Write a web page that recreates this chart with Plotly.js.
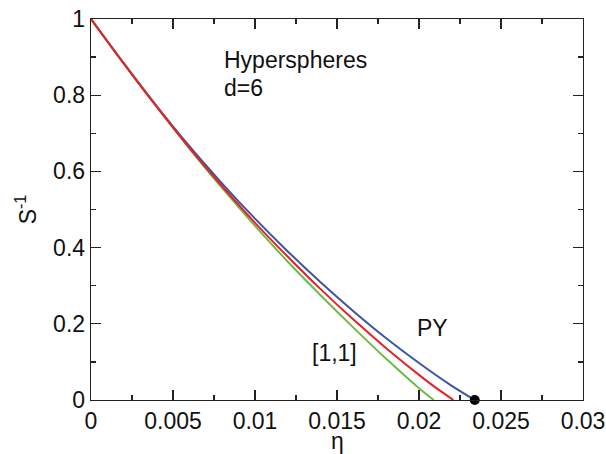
<!DOCTYPE html>
<html>
<head>
<meta charset="utf-8">
<script src="https://cdn.plot.ly/plotly-3.0.1.min.js"></script>
<style>html,body{margin:0;padding:0;background:#fff;}#chart{width:606px;height:454px;}</style>
</head>
<body>
<div id="chart"></div>
<script>
// PY (blue)
const etaPY = [0, 0.002, 0.004, 0.006, 0.008, 0.010, 0.012, 0.014, 0.016, 0.018, 0.020, 0.022, 0.0234];
const sPY   = [1, 0.884, 0.772, 0.666, 0.568, 0.476, 0.390, 0.309, 0.233, 0.162, 0.097, 0.037, 0];
// red curve
const etaRed = [0, 0.002, 0.004, 0.006, 0.008, 0.010, 0.012, 0.014, 0.016, 0.018, 0.020, 0.021, 0.0221];
const sRed   = [1, 0.883, 0.770, 0.662, 0.561, 0.465, 0.376, 0.291, 0.211, 0.136, 0.066, 0.033, 0];
// [1,1] (green)
const etaGreen = [0, 0.002, 0.004, 0.006, 0.008, 0.010, 0.012, 0.014, 0.016, 0.018, 0.020, 0.0209];
const sGreen   = [1, 0.883, 0.770, 0.660, 0.556, 0.457, 0.363, 0.275, 0.190, 0.108, 0.031, 0];
// spinodal point
const dotEta = [0.0234];
const dotS = [0];

const xTicks = [0, 0.005, 0.01, 0.015, 0.02, 0.025, 0.03];
const xTickText = ['0', '0.005', '0.01', '0.015', '0.02', '0.025', '0.03'];
const yTicks = [0, 0.2, 0.4, 0.6, 0.8, 1];
const yTickText = ['0', '0.2', '0.4', '0.6', '0.8', '1'];

const font = {family: 'Liberation Sans, Arial, sans-serif', size: 23, color: '#111'};

const traces = [
  {x: etaPY, y: sPY, mode: 'lines', line: {color: '#3a55a6', width: 2, shape: 'spline'}, hoverinfo: 'skip'},
  {x: etaGreen, y: sGreen, mode: 'lines', line: {color: '#6cbb46', width: 2, shape: 'spline'}, hoverinfo: 'skip'},
  {x: etaRed, y: sRed, mode: 'lines', line: {color: '#e5202a', width: 2, shape: 'spline'}, hoverinfo: 'skip'},
  {x: dotEta, y: dotS, mode: 'markers', marker: {color: '#000', size: 10}, cliponaxis: false, hoverinfo: 'skip'}
];

const axisCommon = {
  showgrid: false, zeroline: false, showline: true, linecolor: '#222', linewidth: 1.3,
  mirror: 'allticks', ticks: 'inside', ticklen: 10, tickwidth: 1.3, tickcolor: '#222',
  tickfont: font, ticklabeloverflow: 'allow'
};

const layout = {
  width: 606, height: 454,
  margin: {l: 91, r: 23, t: 19, b: 54},
  paper_bgcolor: '#fff', plot_bgcolor: '#fff',
  showlegend: false,
  font: font,
  xaxis: Object.assign({}, axisCommon, {
    range: [0, 0.03], tickmode: 'array', tickvals: xTicks, ticktext: xTickText,
    minor: {dtick: 0.0025, ticks: 'inside', ticklen: 5, tickwidth: 1.3, tickcolor: '#222', showgrid: false}
  }),
  yaxis: Object.assign({}, axisCommon, {
    range: [0, 1], tickmode: 'array', tickvals: yTicks, ticktext: yTickText,
    minor: {dtick: 0.1, ticks: 'inside', ticklen: 5, tickwidth: 1.3, tickcolor: '#222', showgrid: false},
    title: {text: 'S<sup>-1</sup>', font: font, standoff: 10}
  }),
  annotations: [
    {x: 0.5, y: -0.108, xref: 'paper', yref: 'paper', text: 'η', showarrow: false, xanchor: 'center', yanchor: 'middle', font: font},
    {x: 0.00797, y: 0.893, xref: 'x', yref: 'y', text: 'Hyperspheres', showarrow: false, xanchor: 'left', yanchor: 'middle', font: font},
    {x: 0.00797, y: 0.82, xref: 'x', yref: 'y', text: 'd=6', showarrow: false, xanchor: 'left', yanchor: 'middle', font: font},
    {x: 0.0208, y: 0.189, xref: 'x', yref: 'y', text: 'PY', showarrow: false, xanchor: 'center', yanchor: 'middle', font: font},
    {x: 0.01487, y: 0.1235, xref: 'x', yref: 'y', text: '[1,1]', showarrow: false, xanchor: 'center', yanchor: 'middle', font: font}
  ]
};

Plotly.newPlot('chart', traces, layout, {staticPlot: true, displayModeBar: false});
</script>
</body>
</html>
